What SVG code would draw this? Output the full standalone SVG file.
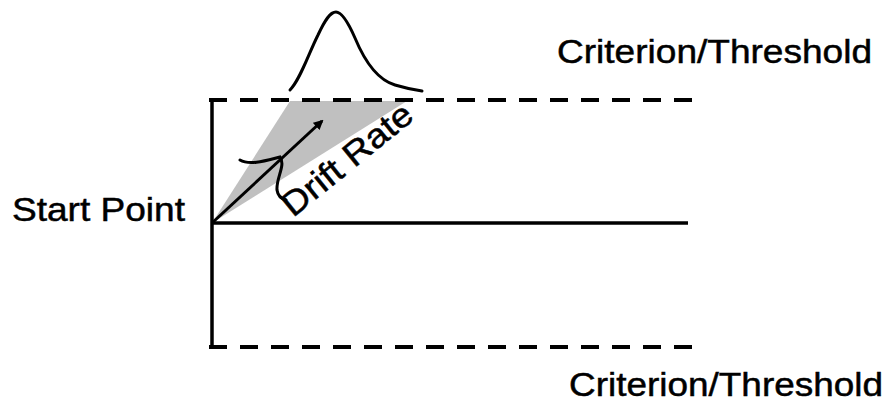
<svg xmlns="http://www.w3.org/2000/svg" width="889" height="405" viewBox="0 0 889 405">
<style>
.lbl{font-family:"Liberation Sans",Arial,sans-serif;font-size:34px;fill:#000;stroke:#000;stroke-width:0.5}
.ln{stroke:#000;stroke-width:3.5;fill:none}
.dash{stroke:#000;stroke-width:4;fill:none;stroke-dasharray:18 13}
.crv{stroke:#000;stroke-width:3;fill:none;stroke-linecap:round}
</style>
<defs>
<marker id="ah" markerWidth="10" markerHeight="10" refX="8" refY="5" orient="auto" markerUnits="userSpaceOnUse" viewBox="0 0 10 10">
<path d="M0,0 L10,5 L0,10 Z" fill="#000"/>
</marker>
</defs>
<g id="drift-region">
<polygon points="212,223 290,101 407,101" fill="#c0c0c0"/>
</g>
<g id="connectors">
<line class="ln" x1="212" y1="100" x2="212" y2="347"/>
<line class="dash" x1="209" y1="100" x2="692" y2="100"/>
<line class="dash" x1="209" y1="347" x2="692" y2="347"/>
<line class="ln" x1="212" y1="223" x2="688" y2="223"/>
<line x1="212" y1="223" x2="322" y2="121" stroke="#000" stroke-width="3" marker-end="url(#ah)"/>
<path class="crv" d="M240,160 C250,166 268,160 280,157 C286,165 276,178 277,190 C278,197 282,199 286,200"/>
<path class="crv" d="M290,90 C300,80 308,55 318,35 C325,20 330,12 336,12 C342,12 348,22 355,38 C365,62 378,80 395,85 C405,88 415,90 422,91"/>
</g>
<g id="start-point"><text class="lbl" x="12" y="221" textLength="173" lengthAdjust="spacingAndGlyphs">Start Point</text></g>
<g id="threshold-top"><text class="lbl" x="557" y="63" textLength="315" lengthAdjust="spacingAndGlyphs">Criterion/Threshold</text></g>
<g id="threshold-bottom"><text class="lbl" x="569" y="396" textLength="314" lengthAdjust="spacingAndGlyphs">Criterion/Threshold</text></g>
<g id="drift-rate"><text class="lbl" x="0" y="0" textLength="158" lengthAdjust="spacingAndGlyphs" transform="translate(293,218) rotate(-39)">Drift Rate</text></g>
</svg>
